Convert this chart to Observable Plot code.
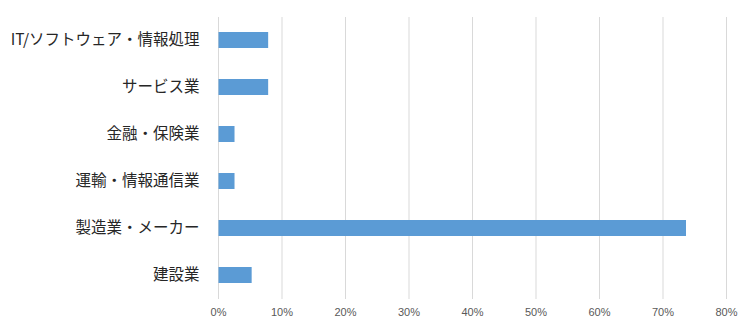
<!DOCTYPE html>
<html>
<head>
<meta charset="utf-8">
<script src="https://cdn.jsdelivr.net/npm/d3@7"></script>
<script src="https://cdn.jsdelivr.net/npm/@observablehq/plot@0.6"></script>
<style>
  html, body { margin: 0; padding: 0; background: #fff; }
  #chart svg { display: block; }
</style>
</head>
<body>
<div id="chart"></div>
<script>
const categories = ["IT/ソフトウェア・情報処理", "サービス業", "金融・保険業", "運輸・情報通信業", "製造業・メーカー", "建設業"];
const shares = [0.079, 0.079, 0.026, 0.026, 0.737, 0.053];
const xTicks = [0, 0.1, 0.2, 0.3, 0.4, 0.5, 0.6, 0.7, 0.8];

const data = categories.map((c, i) => ({category: c, share: shares[i]}));

const chart = Plot.plot({
  width: 753,
  height: 325,
  marginLeft: 218,
  marginRight: 27,
  marginTop: 17,
  marginBottom: 26,
  style: {background: "#fff", fontFamily: "'Noto Sans CJK JP', 'Noto Sans', sans-serif"},
  x: {domain: [0, 0.8], ticks: xTicks, tickFormat: d3.format(".0%")},
  y: {domain: categories, paddingInner: 0.655, paddingOuter: 0.3275},
  marks: [
    Plot.gridX(xTicks, {stroke: "#d9d9d9", strokeOpacity: 1, strokeWidth: 1}),
    Plot.axisX(xTicks, {tickSize: 0, tickPadding: 9, fontSize: 11, fill: "#595959", tickFormat: d3.format(".0%"), label: null, fontFamily: "'Liberation Sans', sans-serif"}),
    Plot.axisY({tickSize: 0, tickPadding: 19, fontSize: 15.5, fill: "#262626", label: null}),
    Plot.barX(data, {x: "share", y: "category", fill: "#5B9BD5", insetLeft: 0.5})
  ]
});
document.getElementById("chart").appendChild(chart);
</script>
</body>
</html>
